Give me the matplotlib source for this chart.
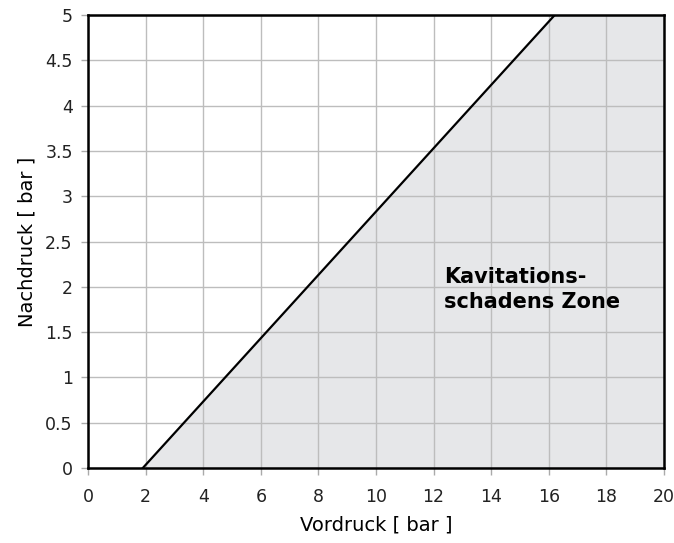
import numpy as np
import matplotlib.pyplot as plt

# Grenzlinie der Kavitation: Vordruck -> Nachdruck
vordruck = [1.9, 16.2]
nachdruck = [0.0, 5.0]

x_ticks = list(range(0, 21, 2))
y_ticks = [0, 0.5, 1, 1.5, 2, 2.5, 3, 3.5, 4, 4.5, 5]
y_labels = ['0', '0.5', '1', '1.5', '2', '2.5', '3', '3.5', '4', '4.5', '5']

fig = plt.figure(figsize=(6.74, 5.43), dpi=100)
ax = fig.add_axes([0.1306, 0.138, 0.8546, 0.834])

# Schadenszone rechts unter der Linie
poly_x = [vordruck[0], vordruck[1], 20, 20]
poly_y = [nachdruck[0], nachdruck[1], 5, 0]
ax.fill(poly_x, poly_y, color='#e6e7e9', zorder=1, lw=0)
ax.plot(vordruck, nachdruck, color='black', lw=1.6, zorder=3)

ax.set_xlim(0, 20)
ax.set_ylim(0, 5)
ax.set_xticks(x_ticks)
ax.set_yticks(y_ticks)
ax.set_yticklabels(y_labels)
ax.grid(True, color='#bdbdbd', lw=1.0, zorder=2)
ax.set_axisbelow(False)
for s in ax.spines.values():
    s.set_linewidth(1.8)
    s.set_zorder(4)
ax.tick_params(direction='out', length=5, width=1, color='#aaaaaa',
               labelsize=12.5, labelcolor='#222222')
ax.tick_params(axis='x', pad=9)
ax.tick_params(axis='y', pad=6)

ax.set_xlabel('Vordruck [ bar ]', fontsize=14, labelpad=7)
ax.set_ylabel('Nachdruck [ bar ]', fontsize=14, labelpad=6)

ax.text(12.35, 1.97, 'Kavitations-\nschadens Zone', fontsize=15,
        fontweight='bold', va='center', ha='left', linespacing=1.3, zorder=5)

fig.savefig('out.png', dpi=100)
